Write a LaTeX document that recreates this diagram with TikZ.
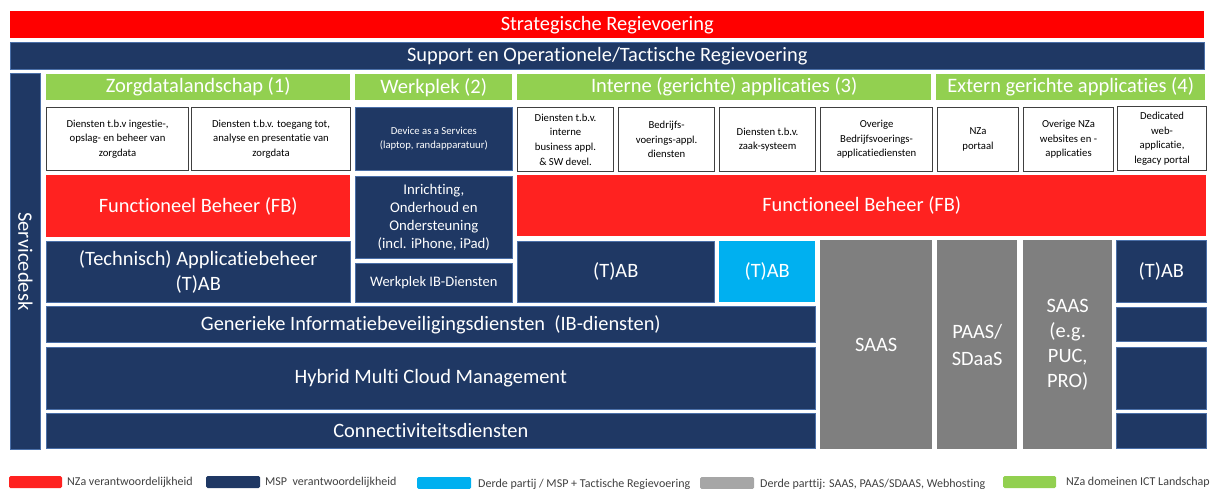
\documentclass[tikz,border=0pt]{standalone}
\usepackage{fontspec}
\setmainfont{Carlito}[Ligatures={NoCommon}]
\definecolor{topred}{HTML}{FF0000}
\definecolor{fbred}{HTML}{FF2220}
\definecolor{navy}{HTML}{1F3864}
\definecolor{navyedge}{HTML}{4A6FA8}
\definecolor{lgreen}{HTML}{92D050}
\definecolor{lcyan}{HTML}{00B0F0}
\definecolor{dgray}{HTML}{7F7F7F}
\definecolor{lgray}{HTML}{A6A6A6}
\definecolor{boxedge}{HTML}{404040}
\definecolor{legtext}{HTML}{404040}
\newcommand\rb[7]{\node[#2, anchor=north west, inner sep=0pt, align=center,
  minimum width={(#5-#3)*1pt}, minimum height={(#6-#4)*1pt}] (#1) at (#3,#4) {#7};}
\tikzset{
  big/.style={font=\fontsize{20.4}{25}\selectfont},
  mid/.style={font=\fontsize{14.8}{18.2}\selectfont},
  small/.style={font=\fontsize{10.7}{14.6}\selectfont},
  redbar/.style={fill=topred, text=white, big},
  navybar/.style={fill=navy, draw=navyedge, line width=0.6pt, text=white, big},
  navybox/.style={fill=navy, draw=navyedge, line width=0.6pt, text=white},
  fbbox/.style={fill=fbred, text=white, big},
  greenbox/.style={fill=lgreen, text=white, font=\fontsize{20.5}{24}\selectfont},
  whitebox/.style={fill=white, draw=boxedge, line width=1.1pt, text=black, small},
  cyanbox/.style={fill=lcyan, text=white, big},
  graybox/.style={fill=dgray, text=white, big},
  swatch/.style={rounded corners=1.5pt},
  legend/.style={anchor=west, inner sep=0pt, text=legtext, font=\fontsize{12}{13}\selectfont}
}
\begin{document}
\begin{tikzpicture}[x=1pt, y=-1pt]
\useasboundingbox (0,0) rectangle (1211,489);
% top bars
\rb{strat}{redbar}{10}{11}{1204}{38}{Strategische Regievoering}
\rb{support}{navybar}{10}{42}{1204}{69}{Support en Operationele/Tactische Regievoering}
% servicedesk
\rb{sdesk}{navybox}{10}{73}{40}{449}{}
\node[text=white, rotate=-90, font=\fontsize{20.5}{24}\selectfont] (sdesklabel) at (sdesk.center) {Servicedesk};
% green domain headers
\rb{zorg}{greenbox}{46}{74}{350}{100}{Zorgdatalandschap (1)}
\rb{werk}{greenbox}{355}{74}{512}{100}{Werkplek (2)}
\rb{intern}{greenbox}{517}{74}{931}{100}{Interne (gerichte) applicaties (3)}
\rb{extern}{greenbox}{936}{74}{1205}{100}{Extern gerichte applicaties (4)}
% service boxes
\rb{b1}{whitebox}{46}{107}{188}{170}{Diensten t.b.v ingestie-,\\opslag- en beheer van\\zorgdata}
\rb{b2}{whitebox}{191}{107}{350}{170}{Diensten t.b.v. toegang tot,\\analyse en presentatie van\\zorgdata}
\rb{dev}{navybox, small}{355}{107}{512}{170}{Device as a Services\\(laptop, randapparatuur)}
\rb{b3}{whitebox}{517}{107}{613}{171}{Diensten t.b.v.\\interne\\business appl.\\\& SW devel.}
\rb{b4}{whitebox}{618}{107}{714}{171}{Bedrijfs-\\voerings-appl.\\diensten}
\rb{b5}{whitebox}{719}{107}{815}{171}{Diensten t.b.v.\\zaak-systeem}
\rb{b6}{whitebox}{820}{107}{932}{171}{Overige\\Bedrijfsvoerings-\\applicatiediensten}
\rb{b7}{whitebox}{937}{107}{1018}{171}{NZa\\portaal}
\rb{b8}{whitebox}{1023}{107}{1113}{171}{Overige NZa\\websites en -\\applicaties}
\rb{b9}{whitebox}{1117}{106}{1206}{170}{Dedicated\\web-\\applicatie,\\legacy portal}
% functional management
\rb{fbl}{fbbox}{46}{175}{350}{237}{Functioneel Beheer (FB)}
\rb{inr}{navybox, mid}{355}{176}{512}{258}{Inrichting,\\Onderhoud en\\Ondersteuning\\(incl. iPhone, iPad)}
\rb{fbr}{fbbox}{517}{175}{1206}{236}{Functioneel Beheer (FB)}
% application management
\rb{appl}{navybox, big}{46}{241}{350}{302}{(Technisch) Applicatiebeheer\\(T)AB}
\rb{wib}{navybox, font=\fontsize{14.5}{16}\selectfont}{355}{263}{512}{302}{Werkplek IB-Diensten}
\rb{tab1}{navybox, big}{517}{241}{714}{302}{(T)AB}
\rb{tab2}{cyanbox}{719}{241}{815}{302}{(T)AB}
\rb{saas}{graybox}{820}{240}{932}{449}{SAAS}
\rb{paas}{graybox, font=\fontsize{20.4}{27}\selectfont}{937}{240}{1017}{449}{PAAS/\\SDaaS}
\rb{saas2}{graybox, font=\fontsize{20.4}{25}\selectfont}{1023}{240}{1112}{449}{SAAS\\(e.g.\\PUC,\\PRO)}
\rb{tabr}{navybox, big}{1116}{240}{1206}{302}{(T)AB}
% infrastructure rows
\rb{ib}{navybox, big}{46}{306}{815}{342}{Generieke Informatiebeveiligingsdiensten~~(IB-diensten)}
\rb{r2}{navybox}{1116}{307}{1206}{341}{}
\rb{hybrid}{navybox, big}{46}{347}{815}{409}{Hybrid Multi Cloud Management}
\rb{r3}{navybox}{1116}{347}{1206}{409}{}
\rb{conn}{navybox, big}{46}{413}{815}{448}{Connectiviteitsdiensten}
\rb{r4}{navybox}{1116}{413}{1206}{448}{}
% legend
\fill[fbred, swatch] (9,476) rectangle (62,488);
\node[legend] (l1) at (67,482) {NZa verantwoordelijkheid};
\fill[navy, swatch] (206,476) rectangle (260,488);
\node[legend] (l2) at (265,482) {MSP~ verantwoordelijkheid};
\fill[lcyan, swatch] (417,477) rectangle (471,489);
\node[legend] (l3) at (478,484) {Derde partij / MSP + Tactische Regievoering};
\fill[lgray, swatch] (700,477) rectangle (754,489);
\node[legend] (l4) at (760,484) {Derde parttij: SAAS, PAAS/SDAAS, Webhosting};
\fill[lgreen, swatch] (1003,476) rectangle (1056,488);
\node[legend] (l5) at (1066,482) {NZa domeinen ICT Landschap};
\end{tikzpicture}
\end{document}
